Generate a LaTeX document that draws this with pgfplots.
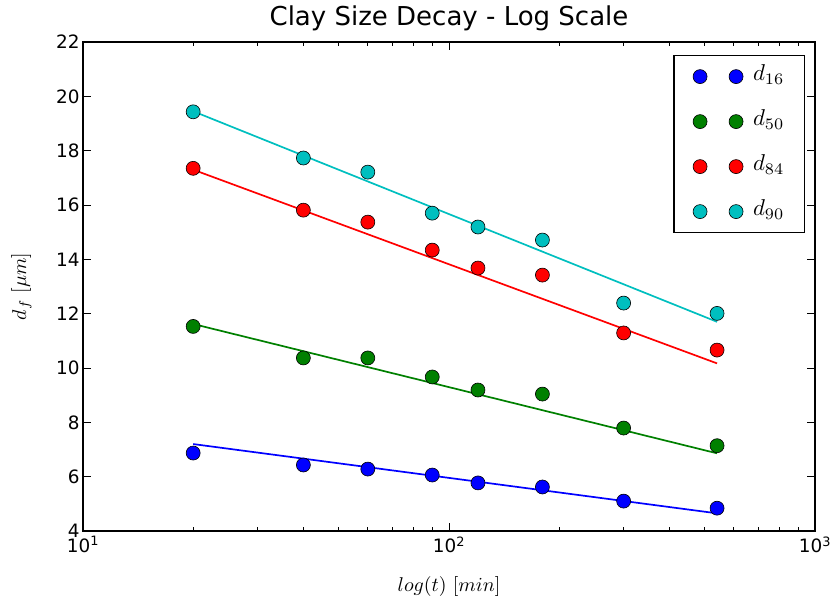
\documentclass[border=0pt]{standalone}
\usepackage{fontspec}
\setmainfont{DejaVu Sans}
\usepackage{graphicx}
\usepackage{pgfplots}
\pgfplotsset{compat=1.18}
\usetikzlibrary{calc}
\definecolor{mblue}{rgb}{0,0,1}
\definecolor{mgreen}{rgb}{0,0.5,0}
\definecolor{mred}{rgb}{1,0,0}
\definecolor{mcyan}{rgb}{0,0.75,0.75}
\newcommand{\legtxt}[1]{\scalebox{2.3}{$#1$}}
\newcommand{\labtxt}[1]{\scalebox{2.0}{$#1$}}
\pgfplotsset{
  dotpair/.style={only marks, mark=*, mark size=7bp,
    mark options={draw=black, line width=0.6bp, fill=#1},
    legend image code/.code={\pgfpathrectangle{\pgfpoint{-1bp}{-7bp}}{\pgfpoint{53bp}{14bp}}\pgfusepath{discard}\draw[##1] plot coordinates {(0bp,0bp) (36bp,0bp)};}},
}
\begin{document}
\begin{tikzpicture}
\begin{axis}[
  scale only axis,
  width=732bp, height=489bp,
  xmode=log, log basis x=10,
  xmin=10, xmax=1000,
  ymin=4, ymax=22,
  ytick={4,6,...,22},
  xtick={10,100,1000},
  xticklabels={10\textsuperscript{1},10\textsuperscript{2},10\textsuperscript{3}},
  minor xtick={20,30,40,50,60,70,80,90,200,300,400,500,600,700,800,900},
  /pgf/number format/assume math mode=true,
  tick align=inside,
  xtick pos=both, ytick pos=both,
  major tick length=8bp, minor tick length=4bp,
  tick style={black, line width=0.8bp},
  axis line style={line width=1.2bp},
  ticklabel style={font=\fontsize{18.4bp}{22bp}\selectfont},
  xticklabel style={yshift=-2bp},
  title={Clay Size Decay - Log Scale},
  title style={font=\fontsize{26bp}{30bp}\selectfont, at={(0.5,1)}, anchor=base, yshift=11bp},
  xlabel={\labtxt{log(t)\ [min]}},
  ylabel={\labtxt{d_f\ [\mu m]}},
  label style={font=\normalsize},
  xlabel style={at={(0.5,0)}, anchor=base, yshift=-60bp},
  ylabel style={at={(0,0.5)}, anchor=base, yshift=57bp},
  legend style={at={(1,1)}, anchor=north east, xshift=-10bp, yshift=-13bp,
    draw=black, line width=1.2bp, font=\normalsize,
    row sep=25bp, inner xsep=19bp, inner ysep=11bp,
    nodes={inner sep=1bp, anchor=west, text height=13bp, text depth=5bp}},
  legend cell align=left,
]
% fitted lines
\addplot[mblue, line width=1.7bp, forget plot] coordinates {(20,7.20) (540,4.65)};
\addplot[mgreen, line width=1.7bp, forget plot] coordinates {(20,11.62) (540,6.86)};
\addplot[mred, line width=1.7bp, forget plot] coordinates {(20,17.30) (540,10.17)};
\addplot[mcyan, line width=1.7bp, forget plot] coordinates {(20,19.45) (540,11.70)};
% data
\addplot[dotpair=mblue] coordinates {(20,6.87) (40,6.43) (60,6.28) (90,6.06) (120,5.77) (180,5.62) (300,5.10) (540,4.84)};
\addlegendentry{\legtxt{d_{16}}}
\addplot[dotpair=mgreen] coordinates {(20,11.53) (40,10.37) (60,10.37) (90,9.67) (120,9.19) (180,9.04) (300,7.79) (540,7.14)};
\addlegendentry{\legtxt{d_{50}}}
\addplot[dotpair=mred] coordinates {(20,17.35) (40,15.81) (60,15.37) (90,14.34) (120,13.68) (180,13.42) (300,11.29) (540,10.66)};
\addlegendentry{\legtxt{d_{84}}}
\addplot[dotpair=mcyan] coordinates {(20,19.43) (40,17.73) (60,17.21) (90,15.70) (120,15.19) (180,14.71) (300,12.39) (540,12.01)};
\addlegendentry{\legtxt{d_{90}}}
\end{axis}
\pgfresetboundingbox
\path[use as bounding box] ($(current axis.south west)+(-83bp,-73bp)$) rectangle ($(current axis.north east)+(20bp,42bp)$);
\end{tikzpicture}
\end{document}
